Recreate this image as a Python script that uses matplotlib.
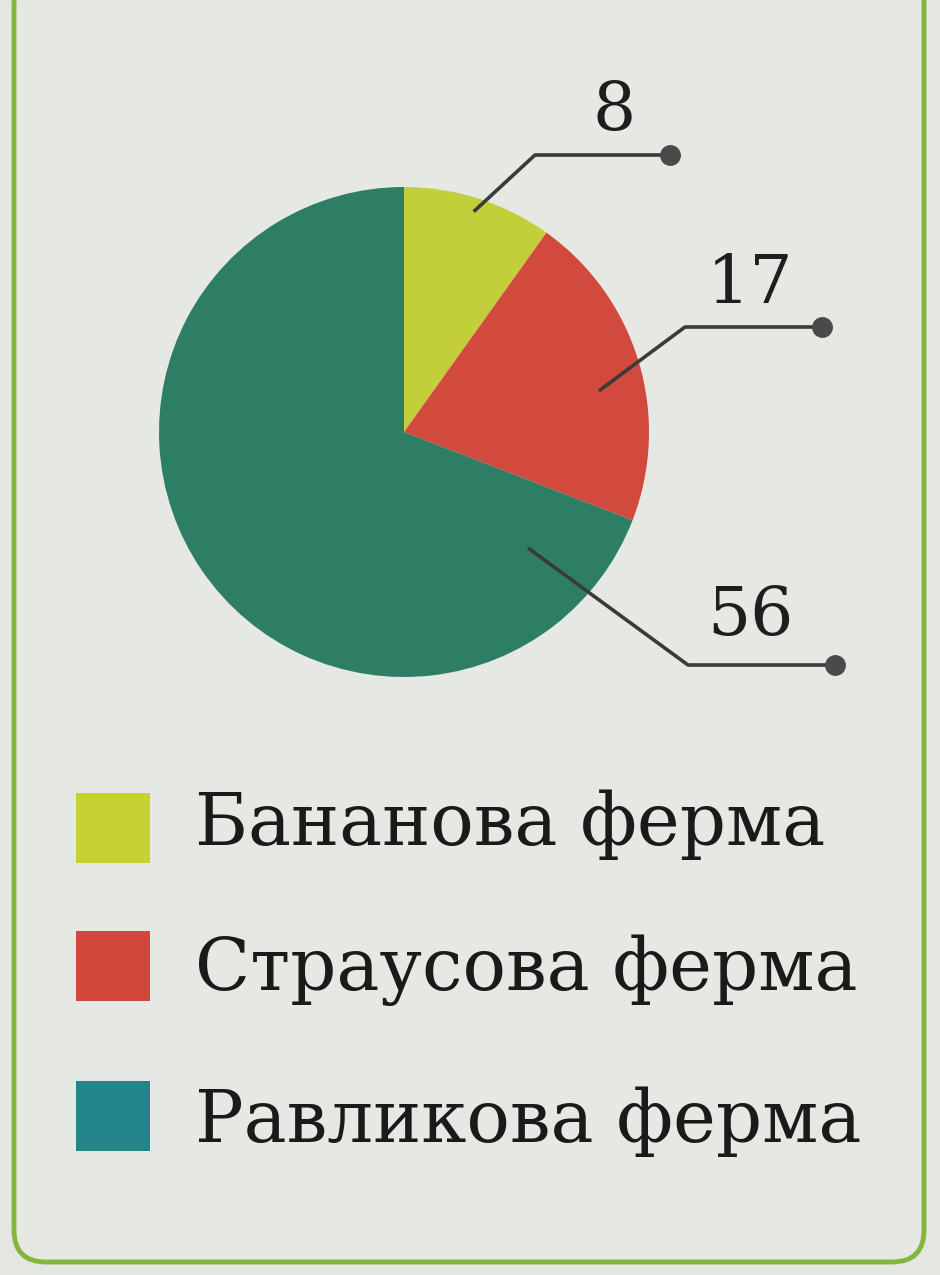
import matplotlib
matplotlib.use("Agg")
import matplotlib.pyplot as plt
import numpy as np
from matplotlib.patches import FancyBboxPatch, Rectangle

# data
labels = ["Бананова ферма", "Страусова ферма", "Равликова ферма"]
values = [8, 17, 56]
pie_colors = ["#c3cf3a", "#d24a3e", "#2e7e66"]
legend_colors = ["#c6d132", "#d3463b", "#23858a"]

# layout (pixel space, y measured from top)
W, H = 940, 1275
CX, CY, R = 404, 432, 245
# per-wedge leader: (fraction along wedge, radius fraction), elbow, end, label pos
LEADER_ANCHOR = [(0.5, 0.95), (0.56, 0.82), (0.088, 0.70)]
LEADER_ELBOW = [(535, 155), (685, 327), (688, 665)]
LEADER_END = [(670, 155), (822, 327), (835, 665)]
LABEL_POS = [(614, 130), (750, 303), (750, 635)]
LEGEND_SQ = [828, 966, 1116]
LEGEND_BASE = [845, 990, 1142]
SERIF = ["DejaVu Serif"]


def py(y):
    return H - y


fig = plt.figure(figsize=(W / 100, H / 100), dpi=100)
fig.patch.set_facecolor("#e4e6e2")
ax = fig.add_axes([0, 0, 1, 1])
ax.set_facecolor("#e4e6e2")

# page frame (top edge runs off the picture)
frame = FancyBboxPatch((14, py(1262)), 910, 1290, boxstyle="round,pad=0,rounding_size=32",
                       fc="#e6e8e4", ec="#86b53c", lw=3.5, zorder=0)
ax.add_patch(frame)

wedges, _ = ax.pie(values, colors=pie_colors, startangle=90, counterclock=False,
                   center=(CX, py(CY)), radius=R, wedgeprops=dict(linewidth=0))

for i, w in enumerate(wedges):
    frac, rfrac = LEADER_ANCHOR[i]
    # counterclock=False: walk from theta2 down to theta1
    ang = np.deg2rad(w.theta2 - frac * (w.theta2 - w.theta1))
    sx = CX + rfrac * R * np.cos(ang)
    sy = py(CY) + rfrac * R * np.sin(ang)
    ex, ey = LEADER_ELBOW[i]
    tx, ty = LEADER_END[i]
    ax.plot([sx, ex, tx], [sy, py(ey), py(ty)], color="#3a3a3a", lw=2.6,
            solid_joinstyle="round", zorder=3)
    ax.plot(tx, py(ty), "o", ms=14, color="#4a4a4a", zorder=4)
    lx, ly = LABEL_POS[i]
    ax.text(lx, py(ly), str(values[i]), ha="center", va="baseline",
            fontsize=49, family=SERIF, color="#1e1e1e")

# legend
for i, lab in enumerate(labels):
    ax.add_patch(Rectangle((76, py(LEGEND_SQ[i] + 35)), 74, 70, color=legend_colors[i], lw=0))
    ax.text(195, py(LEGEND_BASE[i]), lab, ha="left", va="baseline",
            fontsize=52, family=SERIF, color="#1a1a1a")

ax.set_xlim(0, W)
ax.set_ylim(0, H)
ax.set_aspect("equal")
ax.axis("off")

fig.savefig("out.png", dpi=100, facecolor=fig.get_facecolor())
